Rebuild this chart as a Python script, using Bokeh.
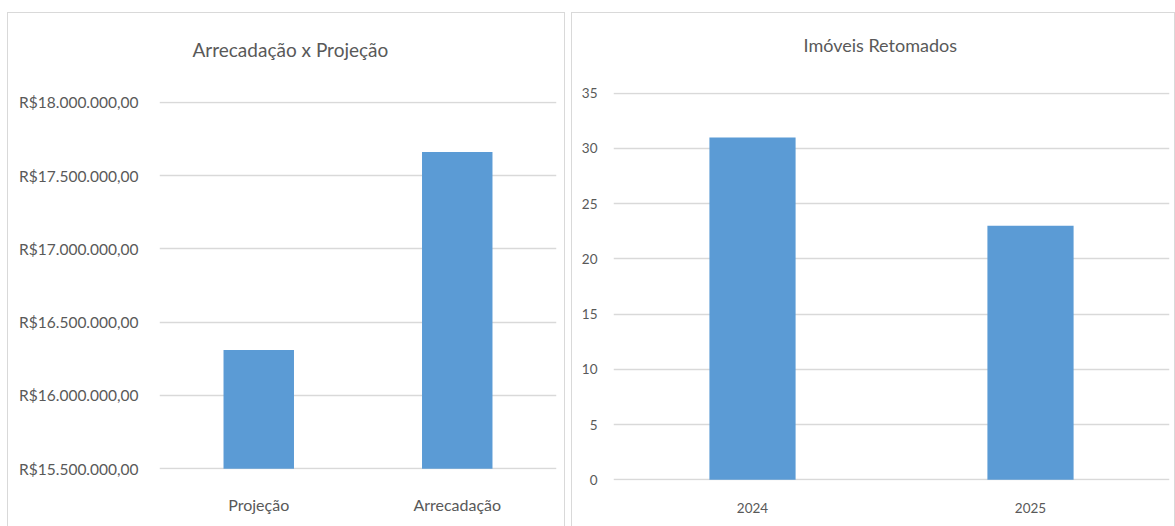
from bokeh.plotting import figure
from bokeh.models import Range1d, FactorRange, FixedTicker, Title
from bokeh.layouts import row, column
from bokeh.embed import file_html
from bokeh.resources import INLINE

# ---- data ----
left_title = "Arrecadação x Projeção"
left_categories = ["Projeção", "Arrecadação"]
left_values = [16_310_000, 17_660_000]
left_ticks = [15_500_000, 16_000_000, 16_500_000, 17_000_000, 17_500_000, 18_000_000]
left_tick_labels = ["R$15.500.000,00", "R$16.000.000,00", "R$16.500.000,00",
                    "R$17.000.000,00", "R$17.500.000,00", "R$18.000.000,00"]

right_title = "Imóveis Retomados"
right_categories = ["2024", "2025"]
right_values = [31, 23]
right_ticks = [0, 5, 10, 15, 20, 25, 30, 35]

FONT = "Lato"
TXT = "#595959"
GRID = "#D9D9D9"
BAR = "#5B9BD5"
BORDER = {"border": "1px solid #D9D9D9", "border-bottom": "none",
          "box-sizing": "border-box"}


def style(p, tick_size, xlab_size):
    for ax in (p.xaxis[0], p.yaxis[0]):
        ax.axis_line_color = None
        ax.major_tick_line_color = None
        ax.minor_tick_line_color = None
        ax.major_label_text_font = FONT
        ax.major_label_text_color = TXT
    p.yaxis[0].major_label_text_font_size = tick_size
    p.xaxis[0].major_label_text_font_size = xlab_size
    p.xgrid.grid_line_color = None
    p.ygrid.grid_line_color = GRID
    p.ygrid.grid_line_width = 1.5
    p.outline_line_color = None


def set_title(p, size, offset, gap):
    # the plot title is drawn outermost; a blank spacer sits between it and the frame
    p.title.text_font = FONT
    p.title.text_font_size = size
    p.title.text_font_style = "normal"
    p.title.text_color = TXT
    p.title.align = "left"
    p.title.offset = offset
    p.title.standoff = 10
    p.add_layout(Title(text=" ", text_font_size="1px", standoff=gap,
                       text_color="white"), "above")


# ---- left panel ----
pad1 = (left_ticks[-1] - left_ticks[0]) * 0.002
p1 = figure(width=558, height=514, x_range=FactorRange(*left_categories),
            y_range=Range1d(left_ticks[0] - pad1, left_ticks[-1] + pad1),
            output_backend="svg", toolbar_location=None, title=left_title,
            min_border_left=151, min_border_right=10, min_border_top=88,
            min_border_bottom=58, margin=(12, 0, 0, 7), styles=BORDER)
p1.vbar(x=left_categories, top=left_values, bottom=left_ticks[0], width=0.355,
        fill_color=BAR, line_color=None)
style(p1, "15.5px", "16px")
p1.yaxis[0].ticker = FixedTicker(ticks=left_ticks)
p1.yaxis[0].major_label_overrides = dict(zip(left_ticks, left_tick_labels))
p1.yaxis[0].major_label_standoff = 15
p1.xaxis[0].major_label_standoff = 19
set_title(p1, "19px", 33, 33)

# ---- right panel ----
pad2 = (right_ticks[-1] - right_ticks[0]) * 0.002
p2 = figure(width=604, height=514, x_range=FactorRange(*right_categories),
            y_range=Range1d(right_ticks[0] - pad2, right_ticks[-1] + pad2),
            output_backend="svg", toolbar_location=None, title=right_title,
            min_border_left=41, min_border_right=7, min_border_top=79,
            min_border_bottom=47, margin=(12, 0, 0, 6), styles=BORDER)
p2.vbar(x=right_categories, top=right_values, width=0.31,
        fill_color=BAR, line_color=None)
style(p2, "13.5px", "13.5px")
p2.yaxis[0].ticker = FixedTicker(ticks=right_ticks)
p2.yaxis[0].major_label_standoff = 10
p2.xaxis[0].major_label_standoff = 16
set_title(p2, "18px", 190, 29)

layout = row(column(p1), column(p2))
open("out.html", "w").write(file_html(layout, INLINE))
